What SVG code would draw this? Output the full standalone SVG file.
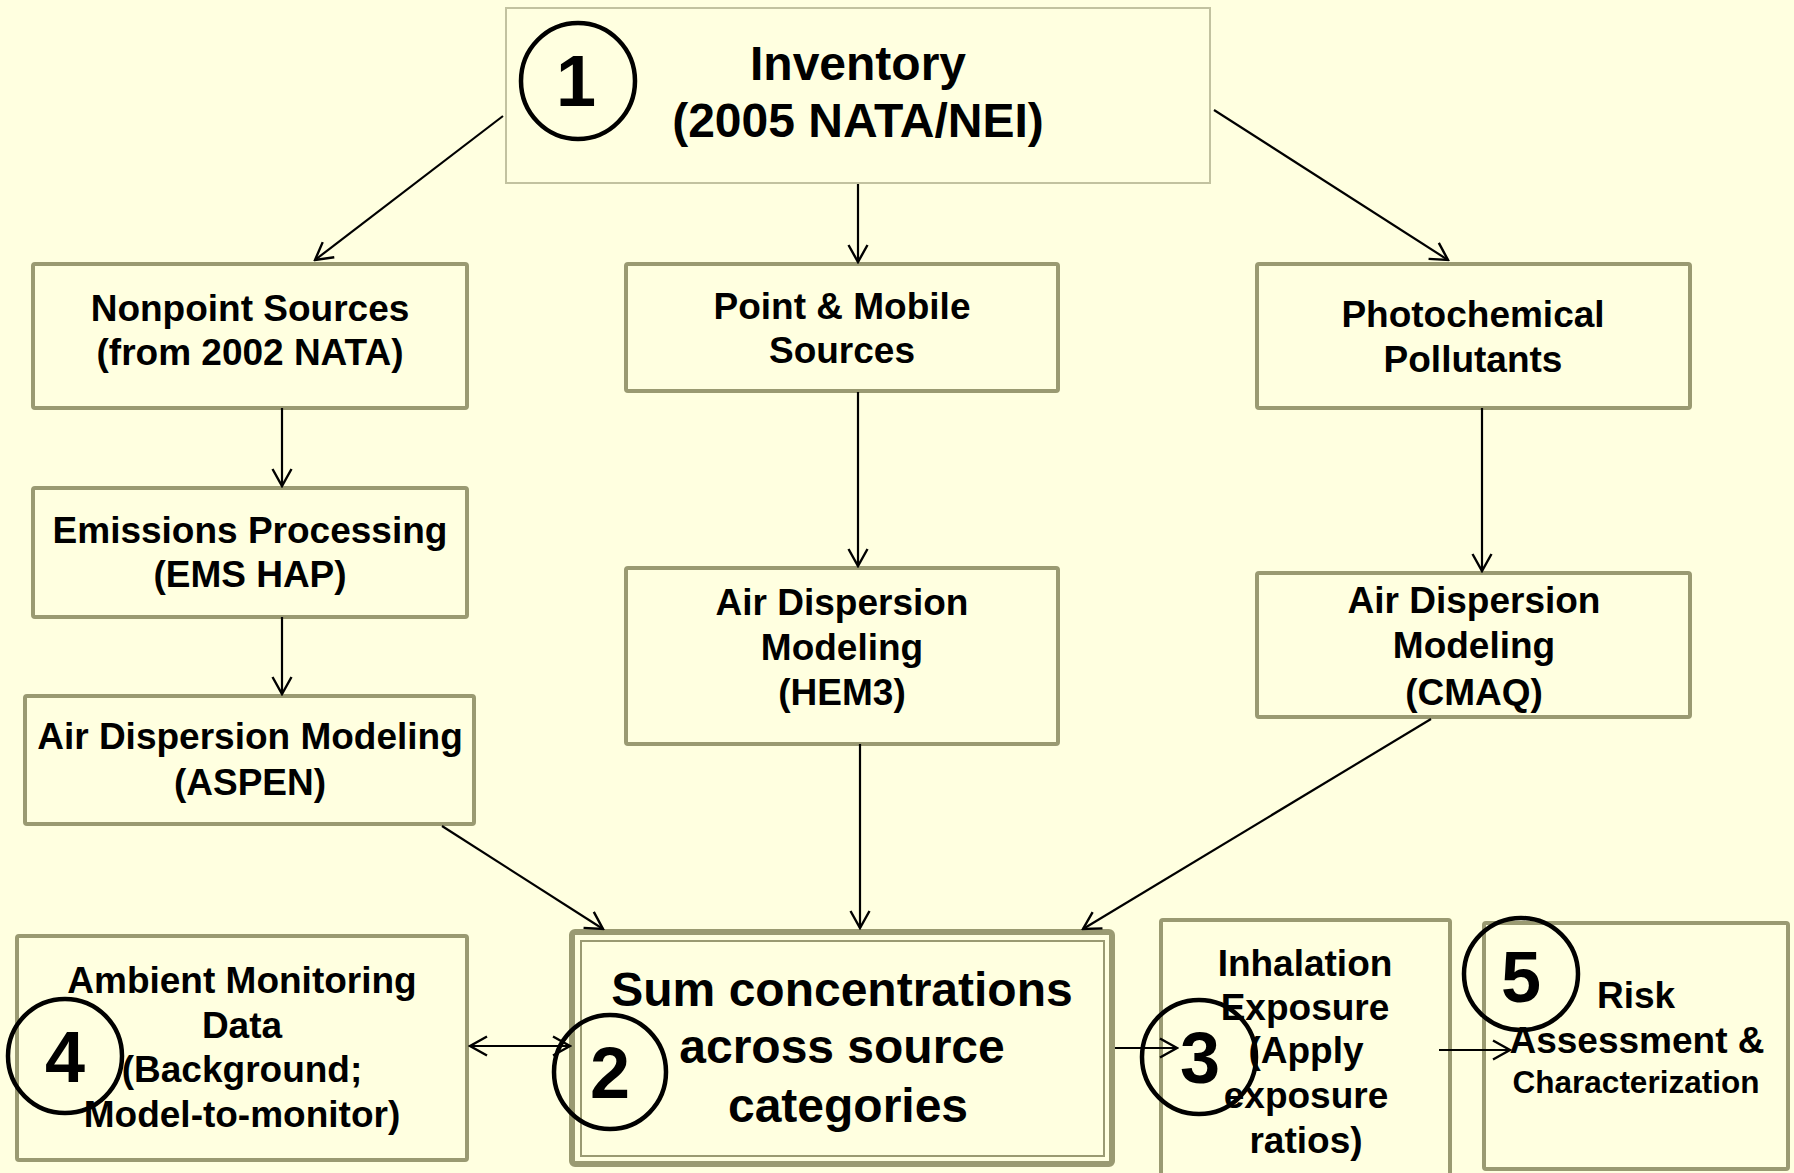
<svg xmlns="http://www.w3.org/2000/svg" width="1794" height="1173" viewBox="0 0 1794 1173">
<defs>
<style>
.bg{fill:#ffffe0}
.box{fill:#ffffe0;stroke:#9a9a72;stroke-width:4}
.thin{fill:#ffffe0;stroke:#c2c2a0;stroke-width:2}
.t{font-family:"Liberation Sans",Arial,sans-serif;font-weight:bold;font-size:37px;fill:#000;text-anchor:middle}
.big{font-size:48px}
.num{font-size:72px}
.badge{fill:none;stroke:#000;stroke-width:4.5}
.edge{fill:none;stroke:#000;stroke-width:2.2}
</style>
<marker id="ah" viewBox="-20 -12 22 24" refX="0" refY="0" markerWidth="22" markerHeight="24" markerUnits="userSpaceOnUse" orient="auto-start-reverse">
<path d="M-17,-9.5 L0,0 L-17,9.5" fill="none" stroke="#000" stroke-width="2.4"/>
</marker>
</defs>
<rect class="bg" x="0" y="0" width="1794" height="1173"/>

<g id="inventory">
<rect class="thin" x="506" y="8" width="704" height="175"/>
<text class="t big" x="858" y="80">Inventory</text>
<text class="t big" x="858" y="137">(2005 NATA/NEI)</text>
<ellipse class="badge" cx="578" cy="81" rx="57" ry="58"/>
<text class="t num" x="576" y="106">1</text>
</g>

<g id="nonpoint">
<rect class="box" x="33" y="264" width="434" height="144" rx="2"/>
<text class="t" x="250" y="321">Nonpoint Sources</text>
<text class="t" x="250" y="365">(from 2002 NATA)</text>
</g>

<g id="point-mobile">
<rect class="box" x="626" y="264" width="432" height="127" rx="2"/>
<text class="t" x="842" y="319">Point &amp; Mobile</text>
<text class="t" x="842" y="363">Sources</text>
</g>

<g id="photochemical">
<rect class="box" x="1257" y="264" width="433" height="144" rx="2"/>
<text class="t" x="1473" y="327">Photochemical</text>
<text class="t" x="1473" y="372">Pollutants</text>
</g>

<g id="emissions">
<rect class="box" x="33" y="488" width="434" height="129" rx="2"/>
<text class="t" x="250" y="543">Emissions Processing</text>
<text class="t" x="250" y="587">(EMS HAP)</text>
</g>

<g id="aspen">
<rect class="box" x="25" y="696" width="449" height="128" rx="2"/>
<text class="t" x="250" y="749">Air Dispersion Modeling</text>
<text class="t" x="250" y="795">(ASPEN)</text>
</g>

<g id="hem3">
<rect class="box" x="626" y="568" width="432" height="176" rx="2"/>
<text class="t" x="842" y="615">Air Dispersion</text>
<text class="t" x="842" y="660">Modeling</text>
<text class="t" x="842" y="705">(HEM3)</text>
</g>

<g id="cmaq">
<rect class="box" x="1257" y="573" width="433" height="144" rx="2"/>
<text class="t" x="1474" y="613">Air Dispersion</text>
<text class="t" x="1474" y="658">Modeling</text>
<text class="t" x="1474" y="705">(CMAQ)</text>
</g>

<g id="ambient">
<rect class="box" x="17" y="936" width="450" height="224" rx="2"/>
<text class="t" x="242" y="993">Ambient Monitoring</text>
<text class="t" x="242" y="1038">Data</text>
<text class="t" x="242" y="1082">(Background;</text>
<text class="t" x="242" y="1127">Model-to-monitor)</text>
<ellipse class="badge" cx="65" cy="1056" rx="57" ry="57"/>
<text class="t num" x="65" y="1082">4</text>
</g>

<g id="sum">
<rect x="572" y="932" width="540" height="232" rx="3" fill="#ffffe0" stroke="#9a9a72" stroke-width="6"/>
<rect x="581" y="941" width="523" height="215" fill="none" stroke="#9a9a72" stroke-width="2"/>
<text class="t big" x="842" y="1006">Sum concentrations</text>
<text class="t big" x="842" y="1063">across source</text>
<text class="t big" x="848" y="1122">categories</text>
<ellipse class="badge" cx="610" cy="1072" rx="56" ry="57"/>
<text class="t num" x="610" y="1098">2</text>
</g>

<g id="inhalation">
<rect class="box" x="1161" y="920" width="289" height="260" rx="2"/>
<text class="t" x="1305" y="976">Inhalation</text>
<text class="t" x="1305" y="1020">Exposure</text>
<text class="t" x="1306" y="1063">(Apply</text>
<text class="t" x="1306" y="1108">exposure</text>
<text class="t" x="1306" y="1153">ratios)</text>
<ellipse class="badge" cx="1199" cy="1057" rx="57" ry="57"/>
<text class="t num" x="1200" y="1083">3</text>
</g>

<g id="risk">
<rect class="box" x="1484" y="923" width="304" height="246" rx="2"/>
<text class="t" x="1636" y="1008">Risk</text>
<text class="t" x="1637" y="1053">Assessment &amp;</text>
<text class="t" x="1636" y="1093" style="font-size:31.5px">Characterization</text>
<ellipse class="badge" cx="1521" cy="974" rx="57" ry="56"/>
<text class="t num" x="1521" y="1002">5</text>
</g>

<g id="connectors">
<line class="edge" x1="503" y1="116" x2="315" y2="260" marker-end="url(#ah)"/>
<line class="edge" x1="858" y1="184" x2="858" y2="262" marker-end="url(#ah)"/>
<line class="edge" x1="1214" y1="110" x2="1448" y2="260" marker-end="url(#ah)"/>
<line class="edge" x1="282" y1="408" x2="282" y2="486" marker-end="url(#ah)"/>
<line class="edge" x1="282" y1="617" x2="282" y2="694" marker-end="url(#ah)"/>
<line class="edge" x1="858" y1="392" x2="858" y2="566" marker-end="url(#ah)"/>
<line class="edge" x1="1482" y1="408" x2="1482" y2="571" marker-end="url(#ah)"/>
<line class="edge" x1="442" y1="826" x2="603" y2="929" marker-end="url(#ah)"/>
<line class="edge" x1="860" y1="744" x2="860" y2="928" marker-end="url(#ah)"/>
<line class="edge" x1="1431" y1="719" x2="1083" y2="929" marker-end="url(#ah)"/>
<line class="edge" x1="470" y1="1046" x2="570" y2="1046" marker-start="url(#ah)" marker-end="url(#ah)"/>
<line class="edge" x1="1115" y1="1048" x2="1177" y2="1048" marker-end="url(#ah)"/>
<line class="edge" x1="1439" y1="1050" x2="1510" y2="1050" marker-end="url(#ah)"/>
</g>
</svg>
